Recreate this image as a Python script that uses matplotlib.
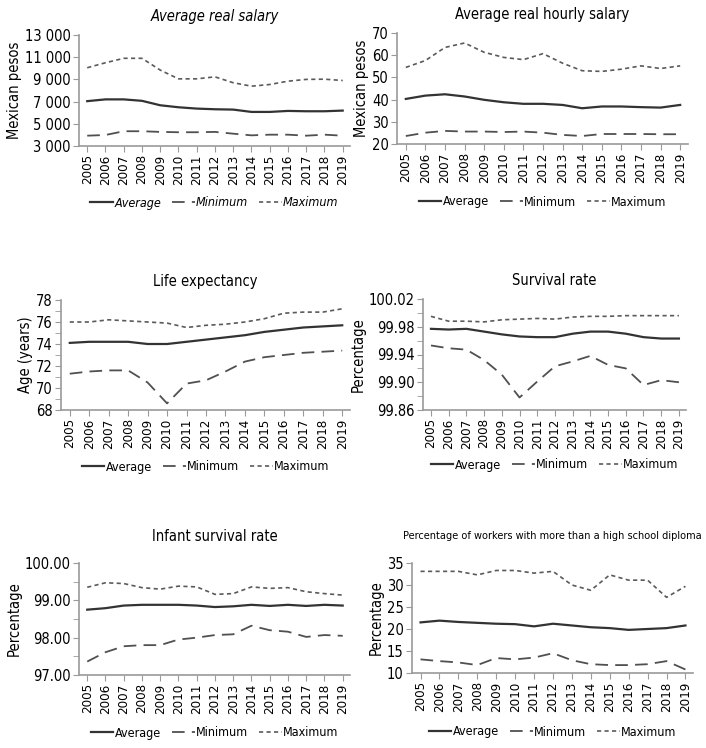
import matplotlib.pyplot as plt
import numpy as np

plt.rcParams['font.family'] = ['DejaVu Sans']
plt.rcParams['font.stretch'] = 'condensed'

years = list(range(2005, 2020))

# Average real salary (Mexican pesos)
sal_avg = [7040, 7200, 7200, 7070, 6670, 6490, 6370, 6310, 6280, 6070, 6070, 6160, 6130, 6130, 6190]
sal_min = [3930, 3990, 4330, 4330, 4270, 4240, 4240, 4270, 4110, 3960, 4020, 4020, 3930, 4020, 3930]
sal_max = [10050, 10500, 10900, 10900, 9840, 9050, 9050, 9230, 8700, 8390, 8540, 8840, 9000, 9020, 8900]

# Average real hourly salary (Mexican pesos)
hr_avg = [40.3, 41.8, 42.4, 41.4, 39.9, 38.8, 38.1, 38.1, 37.6, 36.1, 36.9, 36.9, 36.6, 36.4, 37.6]
hr_min = [23.6, 25.1, 25.9, 25.6, 25.6, 25.4, 25.6, 25.1, 24.1, 23.6, 24.5, 24.5, 24.5, 24.4, 24.4]
hr_max = [54.5, 57.6, 63.5, 65.5, 61.3, 59.0, 58.0, 60.7, 56.4, 53.0, 52.7, 53.7, 55.2, 54.0, 55.2]

# Life expectancy (years)
life_avg = [74.1, 74.2, 74.2, 74.2, 74.0, 74.0, 74.2, 74.4, 74.6, 74.8, 75.1, 75.3, 75.5, 75.6, 75.7]
life_min = [71.3, 71.5, 71.6, 71.6, 70.5, 68.6, 70.4, 70.7, 71.5, 72.4, 72.8, 73.0, 73.2, 73.3, 73.4]
life_max = [76.0, 76.0, 76.2, 76.1, 76.0, 75.9, 75.5, 75.7, 75.8, 76.0, 76.3, 76.8, 76.9, 76.9, 77.2]

# Survival rate (percentage)
surv_avg = [99.977, 99.976, 99.977, 99.973, 99.969, 99.966, 99.965, 99.965, 99.970, 99.973, 99.973, 99.970, 99.965, 99.963, 99.963]
surv_min = [99.953, 99.949, 99.947, 99.932, 99.911, 99.878, 99.901, 99.923, 99.930, 99.938, 99.925, 99.920, 99.896, 99.903, 99.900]
surv_max = [99.995, 99.988, 99.988, 99.987, 99.990, 99.991, 99.992, 99.991, 99.994, 99.995, 99.995, 99.996, 99.996, 99.996, 99.996]

# Infant survival rate (percentage)
inf_avg = [98.75, 98.79, 98.86, 98.88, 98.88, 98.88, 98.86, 98.82, 98.84, 98.88, 98.85, 98.88, 98.85, 98.88, 98.86]
inf_min = [97.36, 97.61, 97.77, 97.80, 97.80, 97.95, 98.00, 98.07, 98.09, 98.32, 98.20, 98.16, 98.02, 98.07, 98.05]
inf_max = [99.35, 99.47, 99.45, 99.34, 99.30, 99.38, 99.36, 99.16, 99.18, 99.36, 99.32, 99.34, 99.23, 99.18, 99.14]

# Percentage of workers with more than a high school diploma
edu_avg = [21.5, 21.9, 21.6, 21.4, 21.2, 21.1, 20.6, 21.2, 20.8, 20.4, 20.2, 19.8, 20.0, 20.2, 20.8]
edu_min = [13.1, 12.7, 12.4, 11.8, 13.4, 13.1, 13.5, 14.5, 12.9, 12.0, 11.8, 11.8, 12.0, 12.7, 10.8]
edu_max = [33.1, 33.1, 33.1, 32.3, 33.3, 33.3, 32.7, 33.1, 30.0, 28.8, 32.3, 31.1, 31.1, 27.2, 29.7]

W, H = 706, 748
fig = plt.figure(figsize=(W / 100, H / 100), dpi=100)


def px_axes(l, t, r, b):
    return fig.add_axes([l / W, 1 - b / H, (r - l) / W, (b - t) / H])


def panel(box, title, avg, mn, mx, ylim, major, minor, fmt, ylabel, leg_y,
          italic=False, title_size=10.5, title_pad=10):
    ax = px_axes(*box)
    ax.plot(years, avg, color='#333333', lw=1.6, ls='-', label='Average')
    ax.plot(years, mn, color='#505050', lw=1.3, ls=(0, (7, 4)), label='Minimum')
    ax.plot(years, mx, color='#5a5a5a', lw=1.2, ls=(0, (2.5, 2)), label='Maximum')
    ax.set_xlim(2004.55, 2019.4)
    ax.set_ylim(*ylim)
    ax.set_xticks(years)
    ax.set_xticklabels([str(y) for y in years], rotation=90, fontsize=9.5)
    ax.set_yticks(major)
    ax.set_yticklabels([fmt(v) for v in major], fontsize=10.5)
    if minor is not None:
        ax.set_yticks(minor, minor=True)
    for s in ['top', 'right']:
        ax.spines[s].set_visible(False)
    for s in ['left', 'bottom']:
        ax.spines[s].set_color('#9a9a9a')
        ax.spines[s].set_linewidth(1.2)
    ax.tick_params(axis='both', which='both', color='#9a9a9a', length=4, pad=2)
    ax.set_ylabel(ylabel, fontsize=10.5, labelpad=2)
    style = 'italic' if italic else 'normal'
    ax.set_title(title, fontsize=title_size, style=style, pad=title_pad)
    # legend centred on a pixel row below the axes
    frac = -(leg_y - box[3]) / (box[3] - box[1])
    leg = ax.legend(loc='center', bbox_to_anchor=(0.5, frac),
                    ncol=3, frameon=False, fontsize=9, handlelength=1.8,
                    columnspacing=0.9, handletextpad=0.1)
    for t in leg.get_texts():
        t.set_style(style)
    return ax


def thousands(v):
    return f'{int(v):,}'.replace(',', ' ')


panel((79, 35, 350, 146), 'Average real salary', sal_avg, sal_min, sal_max,
      (3000, 13000), [3000, 5000, 7000, 9000, 11000, 13000], None,
      thousands, 'Mexican pesos', 203, italic=True)

panel((397, 33, 688, 144), 'Average real hourly salary', hr_avg, hr_min, hr_max,
      (20, 70), [20, 30, 40, 50, 60, 70], None,
      lambda v: f'{v:.0f}', 'Mexican pesos', 202)

panel((61, 300, 350, 410), 'Life expectancy', life_avg, life_min, life_max,
      (68, 78), [68, 70, 72, 74, 76, 78], np.arange(68, 79, 1),
      lambda v: f'{v:.0f}', 'Age (years)', 467)

panel((423, 299, 686, 410), 'Survival rate', surv_avg, surv_min, surv_max,
      (99.86, 100.02), [99.86, 99.90, 99.94, 99.98, 100.02], np.arange(99.86, 100.021, 0.02),
      lambda v: f'{v:.2f}', 'Percentage', 465)

panel((79, 563, 350, 675), 'Infant survival rate', inf_avg, inf_min, inf_max,
      (97, 100), [97.0, 98.0, 99.0, 100.0], np.arange(97, 100.01, 0.5),
      lambda v: f'{v:.2f}', 'Percentage', 733, title_pad=16)

panel((412, 563, 693, 673), 'Percentage of workers with more than a high school diploma',
      edu_avg, edu_min, edu_max,
      (10, 35), [10, 15, 20, 25, 30, 35], None,
      lambda v: f'{v:.0f}', 'Percentage', 732, title_size=7.8, title_pad=17)

fig.savefig('out.png', dpi=100, facecolor='white')
